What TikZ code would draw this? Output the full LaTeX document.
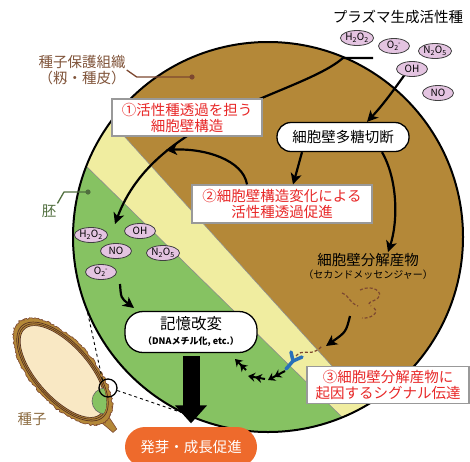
\documentclass[tikz,border=0pt]{standalone}
\usepackage{xcolor}
\usepackage{fontspec}
\setmainfont{Noto Sans CJK JP}
\usepackage{tikz}
\usetikzlibrary{positioning}
\usetikzlibrary{arrows,arrows.meta}
\usetikzlibrary{shapes.geometric}
\definecolor{coat}{RGB}{180,136,56}
\definecolor{layer}{RGB}{240,237,160}
\definecolor{germ}{RGB}{134,194,98}
\definecolor{ros}{RGB}{228,196,225}
\definecolor{note}{RGB}{232,40,40}
\definecolor{seedfill}{RGB}{249,232,196}
\definecolor{husk}{RGB}{125,72,48}
\definecolor{coattext}{RGB}{128,84,58}
\definecolor{seedtext}{RGB}{140,108,66}
\definecolor{rootgreen}{RGB}{80,110,62}
\definecolor{sprout}{RGB}{238,106,44}
\definecolor{receptor}{RGB}{40,112,185}
\tikzset{flow/.style = {->,> = {Stealth[length=11pt,width=11pt,inset=3pt]},line width=2.2pt}}

\begin{document}
\begin{tikzpicture}[x=1pt,y=-1pt,
  step node/.style={draw,line width=1.3pt,fill=white,rounded corners=14pt,minimum width=132pt,minimum height=29pt,inner sep=1pt,font=\fontsize{14.5}{17}\selectfont},
  note box/.style={draw=gray!80,line width=1.2pt,fill=white,text=note,align=center,inner sep=1pt,font=\fontsize{14.5}{16}\selectfont},
  ros node/.style={ellipse,draw=black!75,fill=ros,line width=0.8pt,minimum width=31pt,minimum height=15pt,inner sep=0pt,font=\fontsize{10}{10}\selectfont},
  tag text/.style={align=center,inner sep=1pt,font=\fontsize{14.5}{16}\selectfont},
  sub text/.style={inner sep=0pt,font=\fontsize{10}{12}\selectfont},
  signal/.style={-{Stealth[length=7pt,width=9pt]Stealth[length=7pt,width=9pt]},line width=2pt},
  squiggle/.style={draw=husk,dash pattern=on 3pt off 2pt,line width=1.2pt}]

\useasboundingbox (0,0) rectangle (470,461);

% husk, seed coat and embryo layers
\begin{scope}
  \clip (268,237) circle (195pt);
  \fill[coat] (0,0) rectangle (470,461);
  \fill[layer] (5,4.4) -- (470,518.6) -- (0,518.6) -- cycle;
  \fill[germ] (0,81.6) -- (470,542.6) -- (0,542.6) -- cycle;
  \draw[black!45,line width=0.6pt] (5,4.4) -- (470,518.6);
  \draw[black!45,line width=0.6pt] (0,81.6) -- (470,542.6);
\end{scope}
\draw[line width=2pt] (268,237) circle (195pt);

% seed, long axis tilted 48.5 degrees
\fill[coat,draw=husk,line width=0.6pt] (99.9,421.2) -- (113,432.4) -- (116.8,429) -- (107.3,414.6) -- cycle;
\fill[coat,draw=husk,line width=0.6pt] plot[domain=0:360,samples=180]
  ({62.5+(66+1.4*rand)*0.663*cos(\x)-(31+1.4*rand)*0.749*sin(\x)},{371.5+(66+1.4*rand)*0.749*cos(\x)+(31+1.4*rand)*0.663*sin(\x)}) -- cycle;
\draw[husk!70!black,line width=0.7pt] plot[domain=0:360,samples=90,smooth cycle]
  ({62.5+61*0.663*cos(\x)-28.5*0.749*sin(\x)},{371.5+61*0.749*cos(\x)+28.5*0.663*sin(\x)});
\draw[husk!70!black,line width=0.7pt] plot[domain=0:360,samples=90,smooth cycle]
  ({62.5+59*0.663*cos(\x)-27*0.749*sin(\x)},{371.5+59*0.749*cos(\x)+27*0.663*sin(\x)});
\fill[seedfill,draw=husk!70!black,line width=0.7pt] plot[domain=0:360,samples=90,smooth cycle]
  ({62.5+57*0.663*cos(\x)-25.5*0.749*sin(\x)},{371.5+57*0.749*cos(\x)+25.5*0.663*sin(\x)});
\begin{scope}
  \clip plot[domain=0:360,samples=90,smooth cycle]
    ({62.5+59*0.663*cos(\x)-27*0.749*sin(\x)},{371.5+59*0.749*cos(\x)+27*0.663*sin(\x)});
  \fill[germ,draw=black!60,line width=0.6pt] (105,401) circle (13pt);
\end{scope}
\node[circle,draw,line width=1.3pt,minimum size=18pt,inner sep=0pt] (ring) at (108,388) {};
\coordinate (upper) at (87,310);
\coordinate (lower) at (183,413);
\draw[dashed,line width=0.9pt] (ring.125) -- (upper);
\draw[dashed,line width=0.9pt] (ring.-15) -- (lower);

% labels with leaders
\node[tag text,text=coattext] (coatlabel) at (82,70) {種子保護組織\\（籾・種皮）};
\coordinate (coatdot) at (192,77);
\draw[husk,line width=1.3pt] (coatlabel.east) -- ++(10,7) -- (coatdot);
\fill[husk] (coatdot) circle (2.6pt);
\node[tag text,text=rootgreen] (germlabel) at (49,211) {胚};
\coordinate (germdot) at (88,192);
\draw[rootgreen,line width=1.3pt] (germlabel.north east) -- (64,192) -- (germdot);
\fill[rootgreen] (germdot) circle (2.6pt);
\node[tag text,text=seedtext] (seedlabel) at (32,419) {種子};

% plasma species
\node[tag text] (title) at (398,17) {プラズマ生成活性種};
\node[ros node] (h2o2a) at (357,38) {H\textsubscript{2}O\textsubscript{2}};
\node[ros node] (o2a) at (394,46) {O\textsubscript{2}\kern-0.5pt\textsuperscript{-}};
\node[ros node] (n2o5a) at (435,51) {N\textsubscript{2}O\textsubscript{5}};
\node[ros node] (oha) at (412,69) {OH};
\node[ros node] (noa) at (438,93) {NO};

% species inside the embryo
\node[ros node] (h2o2b) at (91,235) {H\textsubscript{2}O\textsubscript{2}};
\node[ros node] (ohb) at (140,231) {OH};
\node[ros node] (nob) at (116,251) {NO};
\node[ros node] (n2o5b) at (163,253) {N\textsubscript{2}O\textsubscript{5}};
\node[ros node] (o2b) at (101,272) {O\textsubscript{2}\kern-0.5pt\textsuperscript{-}};

% steps
\node[step node] (cut) at (343,137) {細胞壁多糖切断};
\node[tag text] (prod) at (368,260) {細胞壁分解産物};
\node[sub text] (msg) [below of=prod,node distance=15pt] {（セカンドメッセンジャー）};
\node[step node,minimum height=41pt,rounded corners=18pt,align=center] (memory) at (191,332)
  {{\fontsize{15.5}{17}\selectfont 記憶改変}\\[-2pt]{\fontsize{9}{10}\selectfont\bfseries （DNAメチル化, etc.）}};
\node[step node,draw=none,fill=sprout,text=white,minimum height=40pt,rounded corners=20pt] (growth) at (191,447) {発芽・成長促進};

% arrows
\coordinate (src) at (373,58);
\coordinate (bend) at (343,58);
\coordinate (entry) at (115,224);
\coordinate (pass) at (166,150);
\draw[flow] (src) -- (bend) .. controls (300,95) and (155,115) .. (entry);
\draw[flow] (oha.220) .. controls (388,98) and (380,108) .. ([xshift=24pt]cut.north);
\draw[flow] ([xshift=39pt]cut.south) .. controls (398,180) and (398,222) .. ([xshift=20pt]prod.north);
\coordinate (release) at (350,316);
\coordinate (dock) at (326,346);
\draw[flow] (release) .. controls (346,332) .. (dock);
\coordinate (spread) at (120,284);
\coordinate (enter) at (134,308);
\draw[flow] (spread) .. controls (121,298) .. (enter);
\draw[line width=17pt,-{Triangle[width=31pt,length=18pt]},shorten <=3pt,shorten >=3pt] (memory.south) -- (growth.north);

% fragments of the cell wall
\draw[squiggle] (342,293) .. controls (350,296) and (348,302) .. (358,306);
\draw[squiggle] (360,290) .. controls (372,284) and (384,292) .. (378,298) .. controls (372,303) and (366,301) .. (371,306);
\draw[squiggle] (374,308) .. controls (380,313) and (370,319) .. (362,318);
\draw[squiggle] (296,356) .. controls (302,349) and (308,354) .. (313,352) .. controls (318,350) .. (322,346);

% receptor and signal
\draw[receptor,line width=3.5pt,line cap=round] (286,369) -- (293,361) -- (291,352);
\draw[receptor,line width=3.5pt,line cap=round] (293,361) -- (302,357);
\draw[signal] (285,371) -- (268,380);
\draw[signal] (265,379) -- (248,376);
\draw[signal] (246,370) -- (235,359);

% notes
\node[note box,minimum width=150pt,minimum height=37pt] (1) at (187,117.5) {①活性種透過を担う\\細胞壁構造};
\node[note box,minimum width=180pt,minimum height=38pt] (2) at (282,204) {②細胞壁構造変化による\\活性種透過促進};
\node[note box,minimum width=162pt,minimum height=37pt] (3) at (388,385) {③細胞壁分解産物に\\起因するシグナル伝達};
\draw[flow] ([xshift=-41pt]cut.south) .. controls +(-3,12) .. ([xshift=11pt]2.north);
\draw[flow] ([xshift=-35pt]2.north) .. controls (243,160) and (205,148) .. (pass);
\end{tikzpicture}
\end{document}
